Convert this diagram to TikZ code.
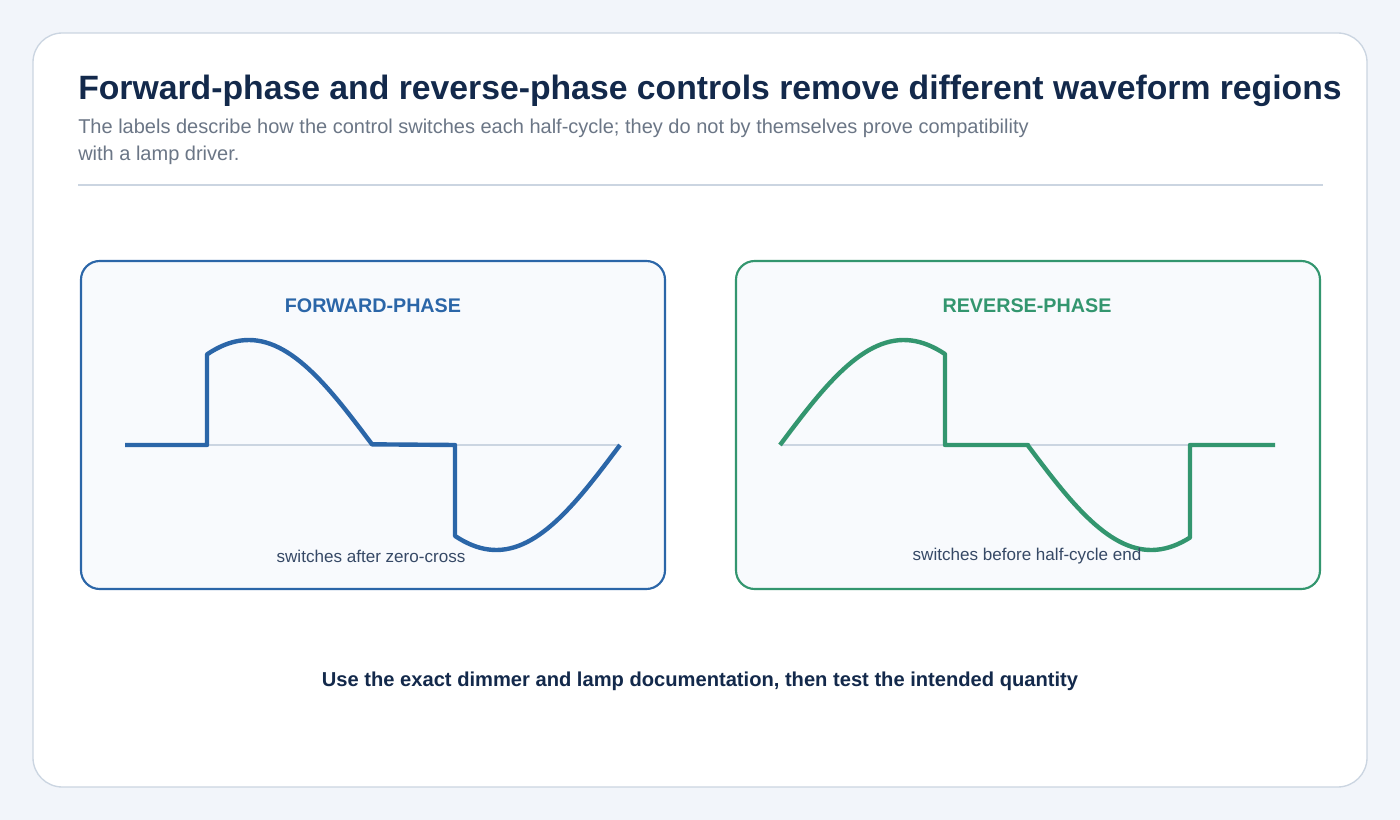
\documentclass[tikz,border=0pt]{standalone}
\usepackage{fontspec}
\setmainfont{Liberation Sans}
\definecolor{pagebg}{HTML}{F2F5FA}
\definecolor{inkdark}{HTML}{13294B}
\definecolor{inkgrey}{HTML}{6B7686}
\definecolor{rulegrey}{HTML}{CBD5E1}
\definecolor{fwdblue}{HTML}{2B66A8}
\definecolor{revgreen}{HTML}{33966F}
\definecolor{cardfill}{HTML}{F8FAFD}
\tikzset{
	% card frame
	card/.style={draw=#1, line width=1.6pt, fill=cardfill, rounded corners=14pt},
	% card heading
	cardhead/.style={text=#1, font=\bfseries\fontsize{14.8}{17}\selectfont},
	% small caption
	caption/.style={text=inkdark!85, font=\fontsize{12.8}{15}\selectfont},
	% waveform trace
	wave/.style={draw=#1, line width=3.3pt, line join=round},
}
\begin{document}
\begin{tikzpicture}[x=0.75pt, y=-0.75pt]
	\useasboundingbox[fill=pagebg] (0,0) rectangle (1400,820);
	\draw[rulegrey, fill=white, line width=1pt, rounded corners=22pt] (33,33) rectangle (1367,787);

	\node[anchor=west, inner sep=0pt, text=inkdark, font=\bfseries\fontsize{25.3}{29}\selectfont] (title) at (78,91) {Forward-phase and reverse-phase controls remove different waveform regions};
	\node[anchor=north west, text=inkgrey, align=left, inner sep=0pt, font=\fontsize{15}{20}\selectfont] (subtitle) at (78,119) {The labels describe how the control switches each half-cycle; they do not by themselves prove compatibility\\with a lamp driver.};
	\draw[rulegrey, line width=1.2pt] (78,185) -- (1323,185);

	% forward-phase card
	\draw[card=fwdblue] (81,261) rectangle (665,589);
	\node[cardhead=fwdblue] (fwdhead) at (373,306) {FORWARD-PHASE};
	\draw[rulegrey, line width=1.5pt] (125,445) -- (620,445);
	\draw[wave=fwdblue] (125,445) -- (207,445)
		-- plot[domain=207:372, samples=40] (\x, {445-105*sin(0.72727*(\x-125))})
		-- (455,445)
		-- plot[domain=455:620, samples=40] (\x, {445-105*sin(0.72727*(\x-125))});
	\node[caption] (fwdcap) at (371,556) {switches after zero-cross};

	% reverse-phase card
	\draw[card=revgreen] (736,261) rectangle (1320,589);
	\node[cardhead=revgreen] (revhead) at (1027,306) {REVERSE-PHASE};
	\draw[rulegrey, line width=1.5pt] (780,445) -- (1275,445);
	\draw[wave=revgreen] plot[domain=780:945, samples=40] (\x, {445-105*sin(0.72727*(\x-780))})
		-- (945,445) -- (1028,445)
		-- plot[domain=1028:1190, samples=40] (\x, {445-105*sin(0.72727*(\x-780))})
		-- (1190,445) -- (1275,445);
	\node[caption] (revcap) at (1027,556) {switches before half-cycle end};

	\node[text=inkdark, font=\bfseries\fontsize{15.1}{18}\selectfont] (footer) at (700,681) {Use the exact dimmer and lamp documentation, then test the intended quantity};
\end{tikzpicture}
\end{document}
